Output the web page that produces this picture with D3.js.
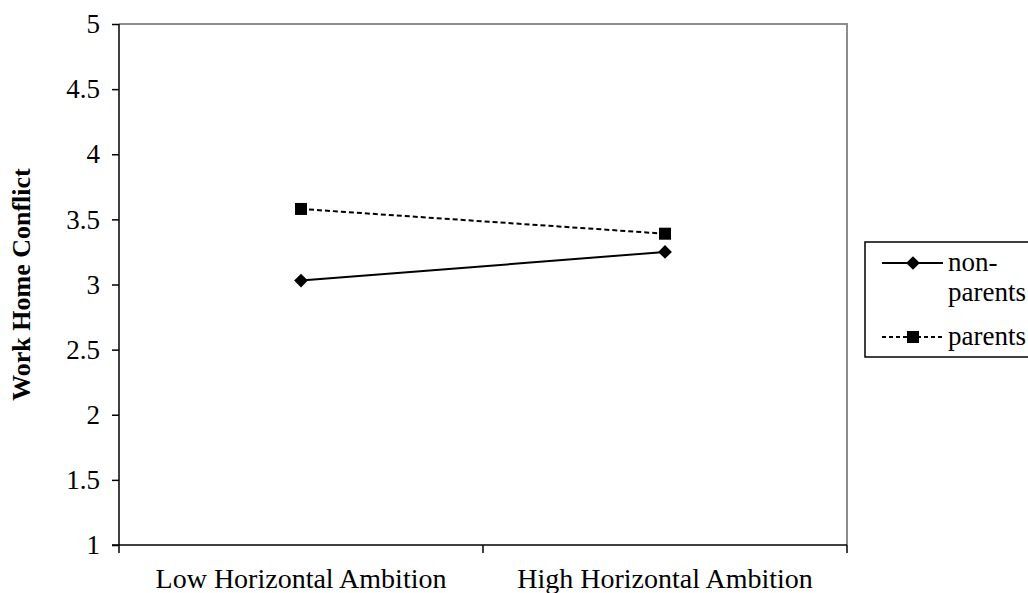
<!DOCTYPE html>
<html>
<head>
<meta charset="utf-8">
<title>Work Home Conflict</title>
<script src="https://cdn.jsdelivr.net/npm/d3@7"></script>
<style>
  body { margin: 0; background: #fff; }
  svg text { font-family: "Liberation Serif", "Times New Roman", "DejaVu Serif", serif; fill: #000; }
  .axis path, .axis line { stroke: #000; stroke-width: 1.5px; }
  .frame { fill: none; stroke: #8c8c8c; stroke-width: 2px; }
</style>
</head>
<body>
<div id="viz"></div>
<script>
// Data
var categories = ["Low Horizontal Ambition", "High Horizontal Ambition"];
var nonParents = [3.03, 3.25];
var parents = [3.58, 3.39];
var seriesNames = ["non-parents", "parents"];
var yTicks = [1, 1.5, 2, 2.5, 3, 3.5, 4, 4.5, 5];

var serif = '"Liberation Serif", "Times New Roman", "DejaVu Serif", serif';

var w = 1028, h = 593;
var margin = {top: 24, right: 181, bottom: 48, left: 119};
var width = w - margin.left - margin.right,
    height = h - margin.top - margin.bottom;

var svg = d3.select("#viz").append("svg")
  .attr("width", w)
  .attr("height", h)
  .attr("font-family", serif);

var g = svg.append("g")
  .attr("transform", "translate(" + margin.left + "," + margin.top + ")");

// scales
var x = d3.scaleBand().domain(categories).range([0, width]);
var y = d3.scaleLinear().domain([1, 5]).range([height, 0]);

// light frame on top and right
g.append("path")
  .attr("class", "frame")
  .attr("d", "M0,0H" + width + "V" + height);

// axes
g.append("g")
  .attr("class", "axis")
  .call(d3.axisLeft(y).tickValues(yTicks).tickSize(7).tickPadding(12).tickFormat(d3.format("")))
  .attr("font-family", serif)
  .attr("font-size", 27)
  .call(function(a) {
    a.select(".domain").attr("d", "M0," + height + "V0");
    a.selectAll("text").style("font-family", serif).style("font-size", "27px");
  });

var xAxis = g.append("g")
  .attr("class", "axis")
  .attr("transform", "translate(0," + height + ")")
  .call(d3.axisBottom(x).tickSize(0).tickPadding(23))
  .attr("font-family", serif)
  .attr("font-size", 28)
  .call(function(a) {
    a.select(".domain").attr("d", "M-7,0H" + width);
    a.selectAll("text").style("font-family", serif).style("font-size", "28px");
  });

// boundary ticks for category axis
xAxis.selectAll(".bound")
  .data([0, width / 2, width])
  .enter().append("line")
  .attr("class", "bound")
  .attr("x1", function(d) { return d; })
  .attr("x2", function(d) { return d; })
  .attr("y1", 0)
  .attr("y2", 8);

// y title
svg.append("text")
  .attr("transform", "translate(30," + (margin.top + height / 2) + ") rotate(-90)")
  .attr("text-anchor", "middle")
  .style("font-size", "26px")
  .style("font-weight", "bold")
  .text("Work Home Conflict");

var cx = function(d, i) { return x(categories[i]) + x.bandwidth() / 2; };

var line = d3.line()
  .x(function(d, i) { return cx(d, i); })
  .y(function(d) { return y(d); });

// non-parents
g.append("path")
  .datum(nonParents)
  .attr("d", line)
  .attr("fill", "none")
  .attr("stroke", "#000")
  .attr("stroke-width", 2);

var diamond = d3.symbol().type(d3.symbolDiamond2).size(120);

g.selectAll(".np")
  .data(nonParents)
  .enter().append("path")
  .attr("class", "np")
  .attr("d", diamond)
  .attr("transform", function(d, i) { return "translate(" + cx(d, i) + "," + y(d) + ")"; })
  .attr("fill", "#000");

// parents
g.append("path")
  .datum(parents)
  .attr("d", line)
  .attr("fill", "none")
  .attr("stroke", "#000")
  .attr("stroke-width", 2)
  .attr("stroke-dasharray", "5,3");

g.selectAll(".p")
  .data(parents)
  .enter().append("rect")
  .attr("class", "p")
  .attr("x", function(d, i) { return cx(d, i) - 6; })
  .attr("y", function(d) { return y(d) - 6; })
  .attr("width", 12)
  .attr("height", 12)
  .attr("fill", "#000");

// legend
var leg = svg.append("g").attr("transform", "translate(865,242)");
leg.append("rect")
  .attr("width", 180)
  .attr("height", 115)
  .attr("fill", "#fff")
  .attr("stroke", "#000")
  .attr("stroke-width", 1.5);

// non-parents entry
leg.append("line")
  .attr("x1", 17).attr("x2", 78).attr("y1", 21).attr("y2", 21)
  .attr("stroke", "#000").attr("stroke-width", 2);
leg.append("path")
  .attr("d", diamond)
  .attr("transform", "translate(48,21)");
var t1 = leg.append("text")
  .attr("x", 83).attr("y", 29)
  .style("font-size", "27px");
t1.append("tspan").attr("x", 83).text("non-");
t1.append("tspan").attr("x", 83).attr("dy", 30).text("parents");

// parents entry
leg.append("line")
  .attr("x1", 17).attr("x2", 78).attr("y1", 95).attr("y2", 95)
  .attr("stroke", "#000").attr("stroke-width", 2)
  .attr("stroke-dasharray", "4,3");
leg.append("rect")
  .attr("x", 42).attr("y", 89).attr("width", 12).attr("height", 12);
leg.append("text")
  .attr("x", 83).attr("y", 103)
  .style("font-size", "27px")
  .text(seriesNames[1]);
</script>
</body>
</html>
